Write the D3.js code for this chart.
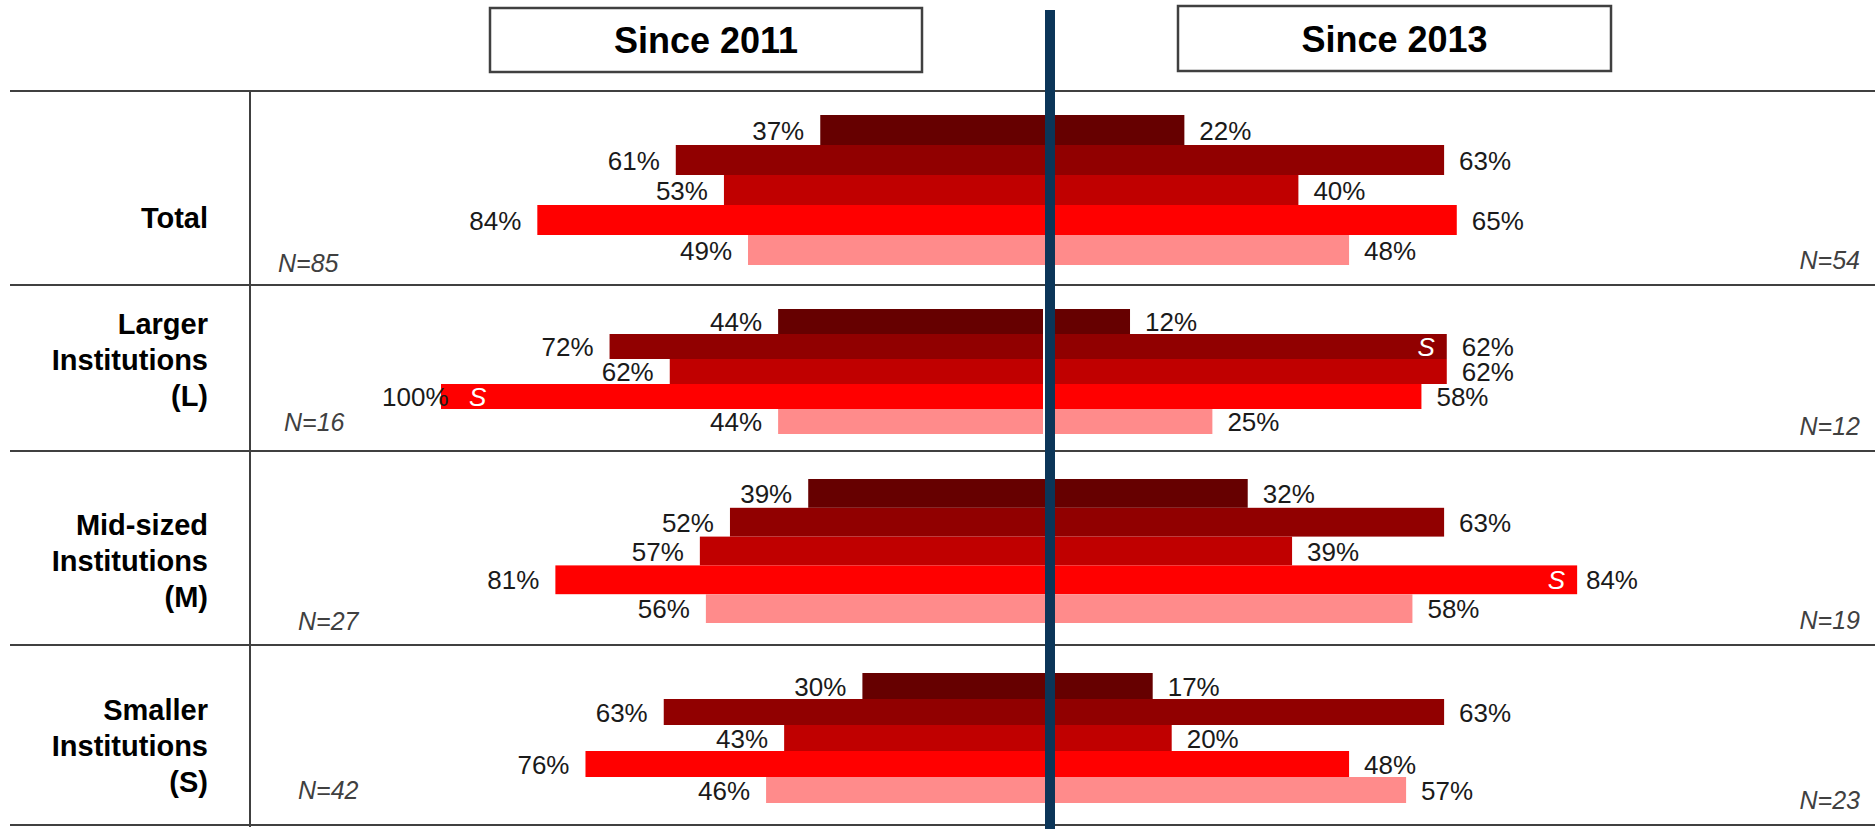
<!DOCTYPE html>
<html>
<head>
<meta charset="utf-8">
<script src="https://cdn.jsdelivr.net/npm/d3@7"></script>
<style>
  html, body { margin: 0; padding: 0; background: #fff; }
  svg { display: block; font-family: "Liberation Sans", Arial, sans-serif; }
</style>
</head>
<body>
<svg id="chart" width="1875" height="829"></svg>
<script>
// ---- data ----
const periods = ["Since 2011", "Since 2013"];
const groupLines = [
  ["Total"],
  ["Larger", "Institutions", "(L)"],
  ["Mid-sized", "Institutions", "(M)"],
  ["Smaller", "Institutions", "(S)"]
];
const since2011 = [
  [37, 61, 53, 84, 49],
  [44, 72, 62, 100, 44],
  [39, 52, 57, 81, 56],
  [30, 63, 43, 76, 46]
];
const since2013 = [
  [22, 63, 40, 65, 48],
  [12, 62, 62, 58, 25],
  [32, 63, 39, 84, 58],
  [17, 63, 20, 48, 57]
];
// significance markers ("S") per bar
const sig2011 = [
  [0, 0, 0, 0, 0],
  [0, 0, 0, 1, 0],
  [0, 0, 0, 0, 0],
  [0, 0, 0, 0, 0]
];
const sig2013 = [
  [0, 0, 0, 0, 0],
  [0, 1, 0, 0, 0],
  [0, 0, 0, 1, 0],
  [0, 0, 0, 0, 0]
];
const n2011 = [85, 16, 27, 42];
const n2013 = [54, 12, 19, 23];

// ---- styles / layout ----
const palette = ["#660000", "#910000", "#c00000", "#ff0000", "#ff8b8b"];
const rowEdges = [91, 285, 451, 645, 825];
const barPad = [[24, 20], [24, 17], [28, 22], [28, 22]];   // top / bottom padding per row
const labelShift = [30, -8, 13, 11];                      // row label offset from row centre
const rightStart = [1045, 1054, 1045, 1045];              // zero of the right-hand panel per row
const nLeft = [[278, 272], [284, 431], [298, 630], [298, 799]];
const svg = d3.select("#chart");

const xLeft = d3.scaleLinear().domain([0, 100]).range([1043, 441]);
const plotLeft = 382, plotRight = 1638;

// header boxes
const headers = [
  { x: 490, y: 8, w: 432, h: 64 },
  { x: 1178, y: 6, w: 433, h: 65 }
];
headers.forEach((b, i) => {
  svg.append("rect").attr("x", b.x).attr("y", b.y).attr("width", b.w).attr("height", b.h)
    .attr("fill", "#fff").attr("stroke", "#404040").attr("stroke-width", 2.5);
  svg.append("text").attr("x", b.x + b.w / 2).attr("y", b.y + b.h / 2 + 13)
    .attr("text-anchor", "middle").attr("font-size", 36).attr("font-weight", "bold")
    .attr("fill", "#000").text(periods[i]);
});

// grid lines
rowEdges.forEach(y => {
  svg.append("line").attr("x1", 10).attr("x2", 1875).attr("y1", y).attr("y2", y)
    .attr("stroke", "#404040").attr("stroke-width", 2);
});
svg.append("line").attr("x1", 250).attr("x2", 250).attr("y1", rowEdges[0]).attr("y2", 827)
  .attr("stroke", "#404040").attr("stroke-width", 2);

const labelFont = 26;

groupLines.forEach((lines, g) => {
  const top = rowEdges[g], bottom = rowEdges[g + 1];
  const y = d3.scaleBand().domain(d3.range(5))
    .range([top + barPad[g][0], bottom - barPad[g][1]]).paddingInner(0);
  const xRight = d3.scaleLinear().domain([0, 100]).range([rightStart[g], rightStart[g] + 633.5]);
  const grp = svg.append("g");

  // left bars (since 2011)
  grp.selectAll("rect.l").data(since2011[g]).join("rect").attr("class", "l")
    .attr("x", d => xLeft(d)).attr("y", (d, i) => y(i))
    .attr("width", d => xLeft(0) - xLeft(d)).attr("height", y.bandwidth())
    .attr("fill", (d, i) => palette[i]);
  // right bars (since 2013)
  grp.selectAll("rect.r").data(since2013[g]).join("rect").attr("class", "r")
    .attr("x", xRight(0) - 2).attr("y", (d, i) => y(i))
    .attr("width", d => xRight(d) - xRight(0) + 2).attr("height", y.bandwidth())
    .attr("fill", (d, i) => palette[i]);

  // value labels, left
  since2011[g].forEach((d, i) => {
    const t = grp.append("text").attr("font-size", labelFont).attr("fill", "#1a1a1a")
      .attr("text-anchor", "end").attr("y", y(i) + y.bandwidth() / 2 + 9.5).text(d + "%");
    const w = t.node().getComputedTextLength();
    let xe = xLeft(d) - 16;
    if (xe - w < plotLeft) xe = plotLeft + w;
    t.attr("x", xe);
    if (sig2011[g][i]) {
      grp.append("text").attr("font-size", labelFont).attr("font-style", "italic")
        .attr("fill", "#fff").attr("x", xLeft(d) + 28)
        .attr("y", y(i) + y.bandwidth() / 2 + 9.5).text("S");
    }
  });
  // value labels, right
  since2013[g].forEach((d, i) => {
    const t = grp.append("text").attr("font-size", labelFont).attr("fill", "#1a1a1a")
      .attr("text-anchor", "start").attr("y", y(i) + y.bandwidth() / 2 + 9.5).text(d + "%");
    const w = t.node().getComputedTextLength();
    let xs = xRight(d) + 15;
    if (xs + w > plotRight) xs = plotRight - w;
    t.attr("x", xs);
    if (sig2013[g][i]) {
      grp.append("text").attr("font-size", labelFont).attr("font-style", "italic")
        .attr("fill", "#fff").attr("text-anchor", "end").attr("x", xRight(d) - 12)
        .attr("y", y(i) + y.bandwidth() / 2 + 9.5).text("S");
    }
  });

  // sample sizes
  grp.append("text").attr("x", nLeft[g][0]).attr("y", nLeft[g][1]).attr("font-size", 25)
    .attr("font-style", "italic").attr("fill", "#404040").text("N=" + n2011[g]);
  grp.append("text").attr("x", 1860).attr("y", bottom - 16).attr("font-size", 25)
    .attr("text-anchor", "end").attr("font-style", "italic").attr("fill", "#404040")
    .text("N=" + n2013[g]);

  // row label
  const lh = 36;
  const cy = (top + bottom) / 2 + labelShift[g];
  const first = cy - (lines.length - 1) * lh / 2 + 10;
  const lbl = grp.append("text").attr("text-anchor", "end").attr("font-size", 29)
    .attr("font-weight", "bold").attr("fill", "#000");
  lines.forEach((s, k) => {
    lbl.append("tspan").attr("x", 208).attr("y", first + k * lh).text(s);
  });
});

// centre divider
svg.append("rect").attr("x", 1045).attr("y", 10).attr("width", 10).attr("height", 819)
  .attr("fill", "#0b3558");
</script>
</body>
</html>
